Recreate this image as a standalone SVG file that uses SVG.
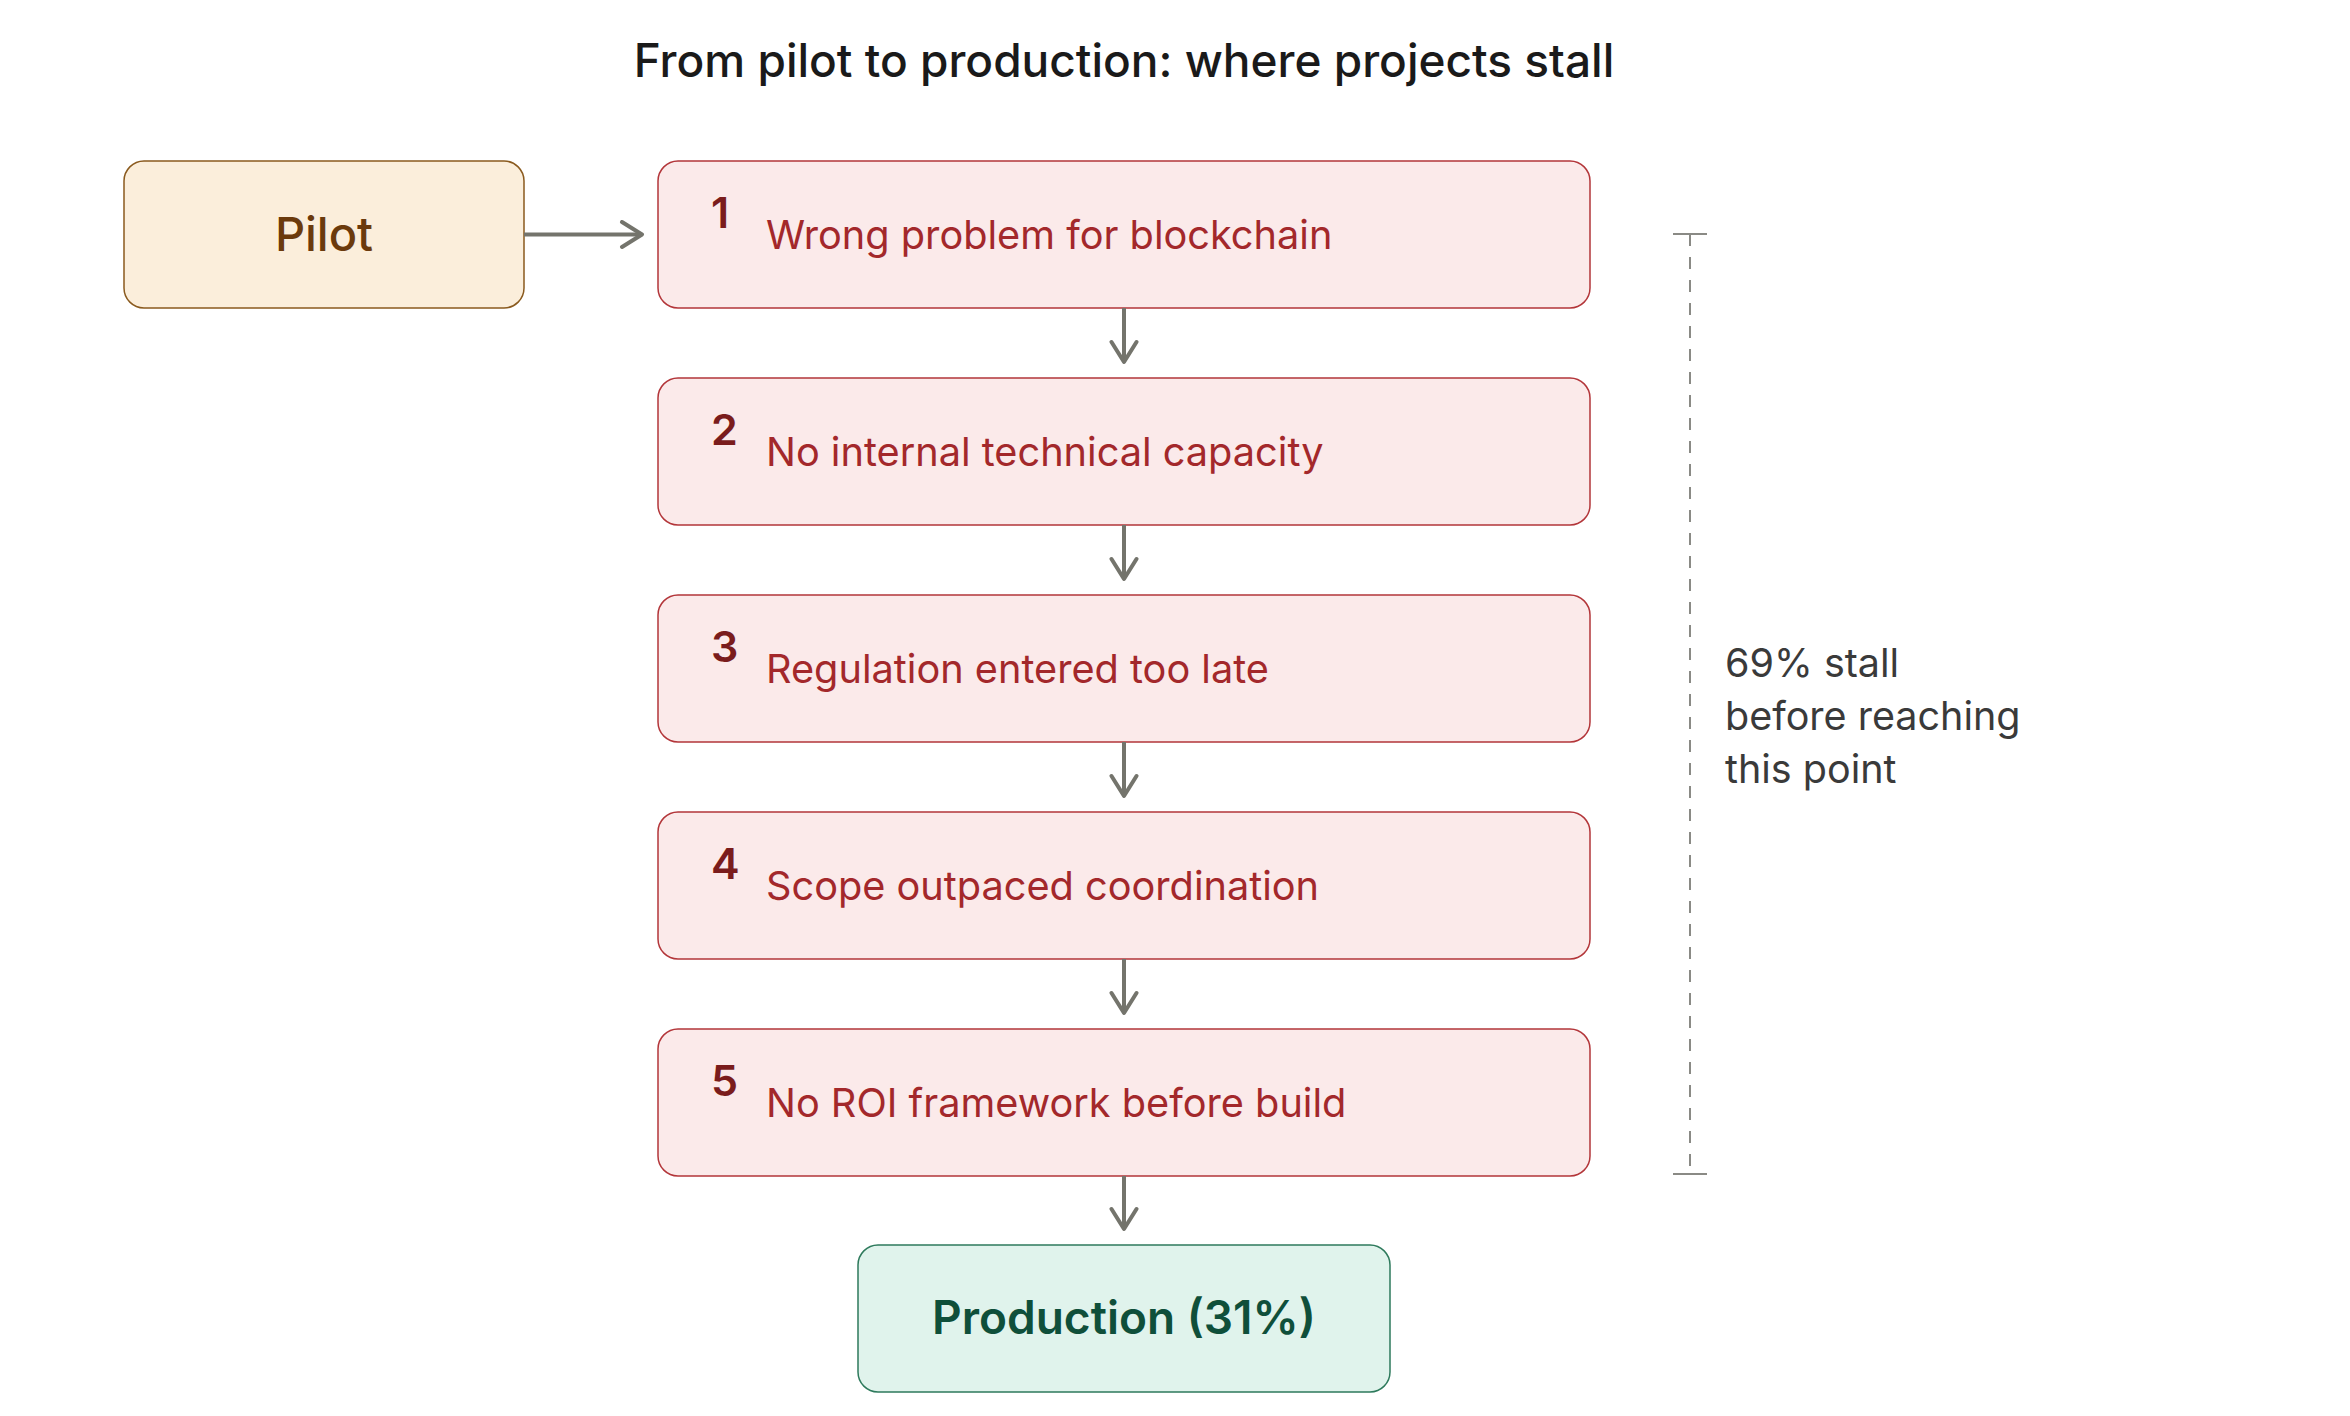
<svg xmlns="http://www.w3.org/2000/svg" width="2350" height="1416" viewBox="0 0 2350 1416">
  <defs>
    <marker id="arr" viewBox="0 0 26 30" refX="23" refY="15" markerWidth="26" markerHeight="30" markerUnits="userSpaceOnUse" orient="auto">
      <path d="M3,2.5 L23,15 L3,27.5" fill="none" stroke="#74746c" stroke-width="4" stroke-linecap="round" stroke-linejoin="round"/>
    </marker>
    <style>
      text { font-family: Inter, "Noto Sans", "Liberation Sans", sans-serif; }
      .title { font-size: 46px; font-weight: 500; fill: #1a1a1a; }
      .step rect { fill: #fbeaea; stroke: #b3363a; stroke-width: 1.5; }
      .num { font-size: 43px; font-weight: 600; fill: #7a1c1c; }
      .lbl { font-size: 39.7px; font-weight: 400; fill: #a3282b; }
      .conn { stroke: #74746c; stroke-width: 4; fill: none; }
      .note { font-size: 39.5px; fill: #3a3a3a; }
    </style>
  </defs>
  <rect width="2350" height="1416" fill="#ffffff"/>
  <text class="title" x="1124" y="77" text-anchor="middle">From pilot to production: where projects stall</text>

  <g id="pilot">
    <rect x="124" y="161" width="400" height="147" rx="20" fill="#fbeedb" stroke="#8a5a1e" stroke-width="1.5"/>
    <text x="324" y="251" text-anchor="middle" font-size="47" font-weight="500" fill="#6b3a0c">Pilot</text>
  </g>

  <g id="step1" class="step">
    <rect x="658" y="161" width="932" height="147" rx="20"/>
    <text class="num" x="711" y="228">1</text>
    <text class="lbl" x="766" y="249">Wrong problem for blockchain</text>
  </g>
  <g id="step2" class="step">
    <rect x="658" y="378" width="932" height="147" rx="20"/>
    <text class="num" x="711" y="445">2</text>
    <text class="lbl" x="766" y="466">No internal technical capacity</text>
  </g>
  <g id="step3" class="step">
    <rect x="658" y="595" width="932" height="147" rx="20"/>
    <text class="num" x="711" y="662">3</text>
    <text class="lbl" x="766" y="683">Regulation entered too late</text>
  </g>
  <g id="step4" class="step">
    <rect x="658" y="812" width="932" height="147" rx="20"/>
    <text class="num" x="711" y="879">4</text>
    <text class="lbl" x="766" y="900">Scope outpaced coordination</text>
  </g>
  <g id="step5" class="step">
    <rect x="658" y="1029" width="932" height="147" rx="20"/>
    <text class="num" x="711" y="1096">5</text>
    <text class="lbl" x="766" y="1117">No ROI framework before build</text>
  </g>

  <g id="production">
    <rect x="858" y="1245" width="532" height="147" rx="20" fill="#e0f3ec" stroke="#2e7a5c" stroke-width="1.5"/>
    <text x="1124" y="1334" text-anchor="middle" font-size="46" font-weight="600" fill="#0f4f3a">Production (31%)</text>
  </g>

  <g id="connectors">
    <line class="conn" x1="524" y1="234.5" x2="642" y2="234.5" marker-end="url(#arr)"/>
    <line class="conn" x1="1124" y1="308" x2="1124" y2="362" marker-end="url(#arr)"/>
    <line class="conn" x1="1124" y1="525" x2="1124" y2="579" marker-end="url(#arr)"/>
    <line class="conn" x1="1124" y1="742" x2="1124" y2="796" marker-end="url(#arr)"/>
    <line class="conn" x1="1124" y1="959" x2="1124" y2="1013" marker-end="url(#arr)"/>
    <line class="conn" x1="1124" y1="1176" x2="1124" y2="1229" marker-end="url(#arr)"/>
  </g>

  <g id="annotation">
    <line x1="1690" y1="234" x2="1690" y2="1174" stroke="#8a8a85" stroke-width="2" stroke-dasharray="12 11"/>
    <line x1="1673" y1="234" x2="1707" y2="234" stroke="#8a8a85" stroke-width="2"/>
    <line x1="1673" y1="1174" x2="1707" y2="1174" stroke="#8a8a85" stroke-width="2"/>
    <text class="note" x="1725" y="677">69% stall</text>
    <text class="note" x="1725" y="730">before reaching</text>
    <text class="note" x="1725" y="783">this point</text>
  </g>
</svg>
